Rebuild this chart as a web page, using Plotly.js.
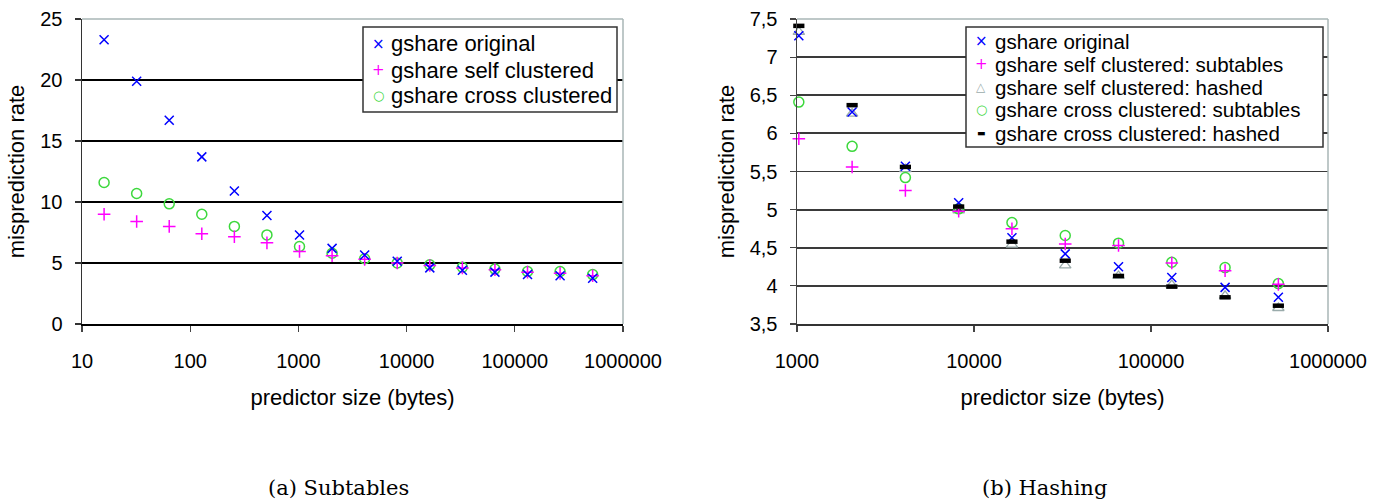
<!DOCTYPE html>
<html>
<head>
<meta charset="utf-8">
<script src="https://cdn.plot.ly/plotly-3.0.1.min.js"></script>
<style>html,body{margin:0;padding:0;background:#fff;} #chart{width:1375px;height:503px;}</style>
</head>
<body>
<div id="chart"></div>
<script>
// ---------- data ----------
const sizesA = [16, 32, 64, 128, 256, 512, 1024, 2048, 4096, 8192, 16384, 32768, 65536, 131072, 262144, 524288];
const origA = [23.3, 19.9, 16.7, 13.7, 10.9, 8.9, 7.3, 6.2, 5.65, 5.15, 4.6, 4.4, 4.25, 4.05, 3.95, 3.75];
const selfA = [9.0, 8.4, 8.0, 7.4, 7.15, 6.65, 5.95, 5.6, 5.3, 5.0, 4.8, 4.6, 4.45, 4.25, 4.15, 3.95];
const crossA = [11.6, 10.7, 9.85, 9.0, 8.0, 7.3, 6.35, 5.8, 5.35, 5.0, 4.85, 4.65, 4.5, 4.3, 4.3, 4.05];

const sizesB = [1024, 2048, 4096, 8192, 16384, 32768, 65536, 131072, 262144, 524288];
const origB = [7.28, 6.28, 5.57, 5.09, 4.63, 4.42, 4.25, 4.11, 3.98, 3.85];
const selfSubB = [5.93, 5.56, 5.25, 4.98, 4.75, 4.55, 4.53, 4.30, 4.20, 4.02];
const selfHashB = [7.33, 6.26, 5.53, 4.99, 4.54, 4.27, 4.13, 4.01, 3.87, 3.71];
const crossSubB = [6.41, 5.83, 5.42, 5.01, 4.83, 4.66, 4.56, 4.31, 4.24, 4.03];
const crossHashB = [7.41, 6.37, 5.56, 5.04, 4.58, 4.33, 4.13, 3.99, 3.85, 3.74];

const xTickValsA = [10, 100, 1000, 10000, 100000, 1000000];
const xTickTextA = ['10', '100', '1000', '10000', '100000', '1000000'];
const xTickValsB = [1000, 10000, 100000, 1000000];
const xTickTextB = ['1000', '10000', '100000', '1000000'];
const yTickValsA = [0, 5, 10, 15, 20, 25];
const yTickValsB = [3.5, 4, 4.5, 5, 5.5, 6, 6.5, 7, 7.5];
const yTickTextB = ['3,5', '4', '4,5', '5', '5,5', '6', '6,5', '7', '7,5'];

const namesA = ['gshare original', 'gshare self clustered', 'gshare cross clustered'];
const namesB = ['gshare original', 'gshare self clustered: subtables', 'gshare self clustered: hashed',
                'gshare cross clustered: subtables', 'gshare cross clustered: hashed'];
const captions = ['(a) Subtables', '(b) Hashing'];

// ---------- styles ----------
const BLUE = '#0000ff', MAG = '#ff00ff', GREEN = '#3cd83c', GREY = '#9aabab', BLACK = '#000000';
const mk = (symbol, color, size, w) => ({symbol: symbol, color: color, size: size, line: {color: color, width: w}});
const stOrig = mk('x-thin', BLUE, 9, 1.5);
const stSelf = mk('cross-thin', MAG, 9, 1.5);
const stCross = mk('circle-open', GREEN, 10, 1.5);
const stTri = mk('triangle-up-open', GREY, 10, 1.3);
const stHash = mk('line-ew', BLACK, 8, 4.5);

function tr(x, y, name, marker, xa, ya) {
  return {x: x, y: y, name: name, type: 'scatter', mode: 'markers', marker: marker,
          xaxis: xa, yaxis: ya, showlegend: false, cliponaxis: false, hoverinfo: 'x+y+name'};
}

const data = [
  tr(sizesA, crossA, namesA[2], stCross, 'x', 'y'),
  tr(sizesA, selfA, namesA[1], stSelf, 'x', 'y'),
  tr(sizesA, origA, namesA[0], stOrig, 'x', 'y'),
  tr(sizesB, selfHashB, namesB[2], stTri, 'x2', 'y2'),
  tr(sizesB, crossSubB, namesB[3], stCross, 'x2', 'y2'),
  tr(sizesB, selfSubB, namesB[1], stSelf, 'x2', 'y2'),
  tr(sizesB, origB, namesB[0], stOrig, 'x2', 'y2'),
  tr(sizesB, crossHashB, namesB[4], stHash, 'x2', 'y2')
];

const W = 1375, H = 503;
const M = {l: 82, r: 47, t: 19, b: 179};
const PW = W - M.l - M.r, PH = H - M.t - M.b;
// pixel (from page top-left) -> paper coordinates
const px = v => (v - M.l) / PW;
const py = v => (H - M.b - v) / PH;
const FONT = 'Liberation Sans, Arial, sans-serif';

const xCommon = {type: 'log', showline: true, linecolor: '#000', linewidth: 1.5, ticks: 'outside', ticklen: 6,
  tickcolor: '#444', tickwidth: 1.2, showgrid: false, zeroline: false, automargin: false,
  tickfont: {family: FONT, size: 20, color: '#000'}, ticklabelstandoff: 12,
  title: {text: 'predictor size (bytes)', font: {family: FONT, size: 22, color: '#000'}, standoff: 19}};
const yCommon = {showline: true, linewidth: 1.5, ticks: 'outside', ticklen: 6, tickwidth: 1.2,
  showgrid: true, zeroline: false, automargin: false, tickmode: 'array',
  tickfont: {family: FONT, size: 20, color: '#000'}, ticklabelstandoff: 8,
  title: {text: 'misprediction rate', font: {family: FONT, size: 22, color: '#000'}, standoff: 9}};

const layout = {
  width: W, height: H,
  margin: M,
  paper_bgcolor: '#fff', plot_bgcolor: '#fff',
  showlegend: false,
  xaxis: Object.assign({}, xCommon, {domain: [0, px(623)], range: [1, 6], anchor: 'y',
    tickvals: xTickValsA, ticktext: xTickTextA, tickmode: 'array'}),
  yaxis: Object.assign({}, yCommon, {domain: [0, 1], range: [0, 25], anchor: 'x',
    tickvals: yTickValsA, linecolor: '#333', tickcolor: '#333', gridcolor: '#000', gridwidth: 1.3}),
  xaxis2: Object.assign({}, xCommon, {domain: [px(797), 1], range: [3, 6], anchor: 'y2',
    tickvals: xTickValsB, ticktext: xTickTextB, tickmode: 'array', linecolor: '#333'}),
  yaxis2: Object.assign({}, yCommon, {domain: [0, 1], range: [3.5, 7.5], anchor: 'x2',
    tickvals: yTickValsB, ticktext: yTickTextB, linecolor: '#444', tickcolor: '#444', gridcolor: '#3a3a3a', gridwidth: 1.8}),
  shapes: [], annotations: []
};

// plot-area top / right borders (light grey, Excel style)
[['x', 'y'], ['x2', 'y2']].forEach(([xa, ya]) => {
  layout.shapes.push({type: 'line', xref: xa + ' domain', yref: ya + ' domain', x0: 0, x1: 1, y0: 1, y1: 1,
    line: {color: '#a8b6b6', width: 1.5}, layer: 'above'});
  layout.shapes.push({type: 'line', xref: xa + ' domain', yref: ya + ' domain', x0: 1, x1: 1, y0: 0, y1: 1,
    line: {color: '#a8b6b6', width: 1.5}, layer: 'above'});
});

// legend boxes drawn as layout items
function legendBox(x0, x1, y0, y1, symX, txtX, rowsY, names, symbols, fs) {
  layout.shapes.push({type: 'rect', xref: 'paper', yref: 'paper', x0: px(x0), x1: px(x1), y0: py(y1), y1: py(y0),
    line: {color: '#333', width: 1.5}, fillcolor: '#fff', layer: 'above'});
  names.forEach((n, i) => {
    layout.annotations.push({xref: 'paper', yref: 'paper', x: px(symX), y: py(rowsY[i]), xanchor: 'center', yanchor: 'middle',
      text: symbols[i][0], showarrow: false, font: {family: 'DejaVu Sans, sans-serif', size: symbols[i][2], color: symbols[i][1]}});
    layout.annotations.push({xref: 'paper', yref: 'paper', x: px(txtX), y: py(rowsY[i]), xanchor: 'left', yanchor: 'middle',
      text: n, showarrow: false, font: {family: FONT, size: fs, color: '#000'}});
  });
}
legendBox(363, 617, 27, 112, 378, 389, [44, 70, 96], namesA,
  [['×', BLUE, 15], ['+', MAG, 15], ['○', GREEN, 13]], 22);
legendBox(966, 1323, 27, 147, 981, 993, [41, 64, 87, 110, 133], namesB,
  [['×', BLUE, 15], ['+', MAG, 15], ['△', GREY, 12], ['○', GREEN, 13], ['▬', BLACK, 9]], 20.5);

// captions
layout.annotations.push({xref: 'paper', yref: 'paper', x: px(338), y: py(488), xanchor: 'center', yanchor: 'middle',
  text: captions[0], showarrow: false, font: {family: 'DejaVu Serif, serif', size: 21, color: '#000'}});
layout.annotations.push({xref: 'paper', yref: 'paper', x: px(1044), y: py(488), xanchor: 'center', yanchor: 'middle',
  text: captions[1], showarrow: false, font: {family: 'DejaVu Serif, serif', size: 21, color: '#000'}});

Plotly.newPlot('chart', data, layout, {displayModeBar: false, staticPlot: true});
</script>
</body>
</html>
